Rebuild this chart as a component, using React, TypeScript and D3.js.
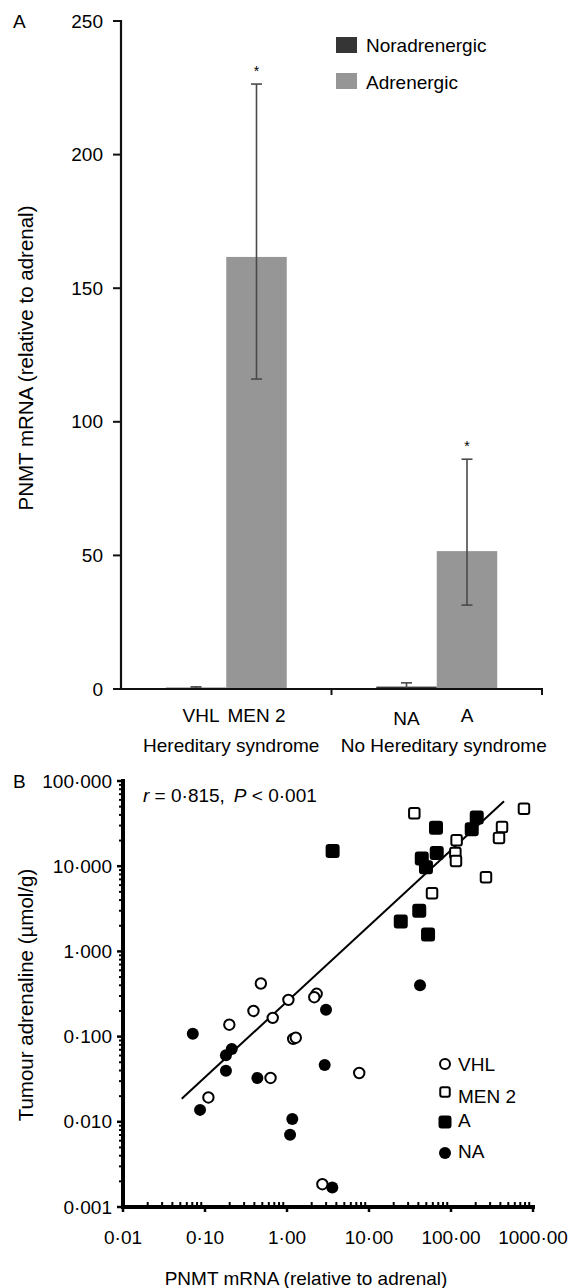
import React from 'react';
import * as d3 from 'd3';

// ---------- Panel A data ----------
const groups = ['Hereditary syndrome', 'No Hereditary syndrome'];
const subLabels = [['VHL', 'MEN 2'], ['NA', 'A']];
const seriesNames = ['Noradrenergic', 'Adrenergic'];
const seriesColors = ['#353535', '#969696'];
const noradrenergicMean = [0.5, 0.9];
const noradrenergicLow = [0.2, 0.0];
const noradrenergicHigh = [0.8, 2.3];
const adrenergicMean = [161.7, 51.6];
const adrenergicLow = [116, 31.4];
const adrenergicHigh = [226.4, 86];
const adrenergicStar = ['*', '*'];
const barYTicks = [0, 50, 100, 150, 200, 250];

// ---------- Panel B data ----------
const vhlX = [0.48, 0.39, 0.198, 1.04, 0.67, 2.3, 2.15, 1.19, 1.28, 0.63, 7.6, 0.11, 2.7];
const vhlY = [0.42, 0.2, 0.138, 0.27, 0.166, 0.318, 0.29, 0.094, 0.097, 0.0327, 0.0374, 0.0193, 0.00185];
const men2X = [35.7, 776, 419, 385, 117, 113, 115, 267, 58.7];
const men2Y = [41.7, 47.2, 28.8, 21.5, 20.2, 14.3, 11.5, 7.4, 4.8];
const aX = [3.6, 65.6, 206, 179, 67, 44, 49.5, 41, 24.4, 52.5];
const aY = [15.1, 28.2, 37.4, 27.2, 14.3, 12.3, 9.7, 3.0, 2.25, 1.58];
const naX = [0.071, 2.99, 0.212, 0.18, 0.18, 0.435, 2.88, 0.087, 1.16, 1.09, 3.57, 41.9];
const naY = [0.108, 0.206, 0.0716, 0.0605, 0.0398, 0.0327, 0.0464, 0.0138, 0.0108, 0.00703, 0.00169, 0.4];
const fitX = [0.052, 443];
const fitY = [0.0186, 58];
const logXTicks = [0.01, 0.1, 1, 10, 100, 1000];
const logXLabels = ['0·01', '0·10', '1·00', '10·00', '100·00', '1000·00'];
const logYTicks = [0.001, 0.01, 0.1, 1, 10, 100];
const logYLabels = ['0·001', '0·010', '0·100', '1·000', '10·000', '100·000'];
const legendB = ['VHL', 'MEN 2', 'A', 'NA'];

const FONT = 'Liberation Sans, Arial, Helvetica, sans-serif';
const FS = 19;
const FS_TITLE = 20.5;

function minorTicks(lo: number, hi: number): number[] {
  const out: number[] = [];
  for (let e = Math.log10(lo); e < Math.log10(hi); e++) {
    for (let k = 2; k <= 9; k++) out.push(k * Math.pow(10, e));
  }
  return out;
}

function PanelA() {
  const y = d3.scaleLinear().domain([0, 250]).range([689, 21]);
  const x0 = d3.scaleBand().domain(groups).range([121, 542]).paddingInner(0).paddingOuter(0);
  const x1 = d3.scaleBand().domain(seriesNames).range([0, x0.bandwidth()]).paddingInner(0).paddingOuter(0.74);
  const means = [noradrenergicMean, adrenergicMean];
  const lows = [noradrenergicLow, adrenergicLow];
  const highs = [noradrenergicHigh, adrenergicHigh];
  const cap = 5.5;
  return (
    <g fontFamily={FONT} fontSize={FS}>
      <text x={13} y={28} fontSize={FS}>A</text>
      {/* bars */}
      {groups.map((g, gi) => (
        <g key={g}>
          {seriesNames.map((s, si) => {
            const bx = (x0(g) as number) + (x1(s) as number);
            const bw = x1.bandwidth();
            const v = means[si][gi];
            return (
              <rect key={s} x={bx} y={y(v)} width={bw} height={y(0) - y(v)} fill={seriesColors[si]} />
            );
          })}
        </g>
      ))}
      {/* error bars */}
      {groups.map((g, gi) => (
        <g key={g + 'e'}>
          {seriesNames.map((s, si) => {
            const cx = (x0(g) as number) + (x1(s) as number) + x1.bandwidth() / 2;
            const lo = lows[si][gi];
            const hi = highs[si][gi];
            return (
              <g key={s} stroke="#4a4a4a" strokeWidth={1.6}>
                <line x1={cx} x2={cx} y1={y(lo)} y2={y(hi)} />
                <line x1={cx - cap} x2={cx + cap} y1={y(hi)} y2={y(hi)} />
                <line x1={cx - cap} x2={cx + cap} y1={y(lo)} y2={y(lo)} />
              </g>
            );
          })}
          <text
            x={(x0(g) as number) + (x1('Adrenergic') as number) + x1.bandwidth() / 2}
            y={y(adrenergicHigh[gi]) - 8}
            textAnchor="middle"
            fontSize={14}
          >
            {adrenergicStar[gi]}
          </text>
        </g>
      ))}
      {/* y axis */}
      <line x1={121} x2={121} y1={20} y2={690} stroke="#111" strokeWidth={2.2} />
      {barYTicks.map((t) => (
        <g key={t}>
          <line x1={113} x2={121} y1={y(t)} y2={y(t)} stroke="#111" strokeWidth={2} />
          <text x={103} y={y(t)} dy="0.35em" textAnchor="end">{t}</text>
        </g>
      ))}
      {/* x axis */}
      <line x1={113} x2={543} y1={y(0)} y2={y(0)} stroke="#111" strokeWidth={2.2} />
      {[x0('No Hereditary syndrome') as number, 542].map((tx, i) => (
        <line key={i} x1={tx} x2={tx} y1={y(0)} y2={y(0) + 6} stroke="#111" strokeWidth={2} />
      ))}
      {groups.map((g, gi) => (
        <g key={g + 'l'}>
          {seriesNames.map((s, si) => (
            <text
              key={s}
              x={(x0(g) as number) + (x1(s) as number) + x1.bandwidth() / 2 + (gi === 0 && si === 0 ? 5 : 0)}
              y={gi === 1 && si === 0 ? 725 : 722}
              textAnchor="middle"
            >
              {subLabels[gi][si]}
            </text>
          ))}
          <text x={(x0(g) as number) + x0.bandwidth() / 2 + (gi === 0 ? 5 : 7)} y={752} textAnchor="middle">
            {g}
          </text>
        </g>
      ))}
      {/* y title */}
      <text transform="translate(33,358) rotate(-90)" textAnchor="middle" fontSize={FS_TITLE}>
        PNMT mRNA (relative to adrenal)
      </text>
      {/* legend */}
      {seriesNames.map((s, i) => (
        <g key={s}>
          <rect x={336} y={37 + i * 36} width={21} height={16} fill={seriesColors[i]} />
          <text x={366} y={52 + i * 37}>{s}</text>
        </g>
      ))}
    </g>
  );
}

function PanelB() {
  const x = d3.scaleLog().domain([0.01, 1000]).range([123, 533]);
  const y = d3.scaleLog().domain([0.001, 100]).range([1207, 781]);
  const line = d3.line<number>().x((_, i) => x(fitX[i])).y((d) => y(d));
  const xMinor = minorTicks(0.01, 1000);
  const yMinor = minorTicks(0.001, 100);
  const axisY = y(0.001);
  const sq = (cx: number, cy: number, s: number, filled: boolean, key: string) => (
    <rect
      key={key}
      x={cx - s / 2}
      y={cy - s / 2}
      width={s}
      height={s}
      rx={2}
      fill={filled ? '#000' : '#fff'}
      stroke="#000"
      strokeWidth={2}
    />
  );
  return (
    <g fontFamily={FONT} fontSize={FS}>
      <text x={13} y={788}>B</text>
      {/* axes */}
      <line x1={123} x2={123} y1={779} y2={axisY + 2} stroke="#000" strokeWidth={4} />
      <line x1={121} x2={535} y1={axisY} y2={axisY} stroke="#000" strokeWidth={4} />
      {yMinor.map((t, i) => (
        <line key={'ym' + i} x1={119} x2={123} y1={y(t)} y2={y(t)} stroke="#000" strokeWidth={2} />
      ))}
      {logYTicks.map((t, i) => (
        <g key={'yt' + i}>
          <line x1={117} x2={123} y1={y(t)} y2={y(t)} stroke="#000" strokeWidth={2.5} />
          <text x={112} y={y(t)} dy="0.35em" textAnchor="end">{logYLabels[i]}</text>
        </g>
      ))}
      {xMinor.map((t, i) => (
        <line key={'xm' + i} x1={x(t)} x2={x(t)} y1={axisY - 5} y2={axisY} stroke="#000" strokeWidth={2} />
      ))}
      {logXTicks.map((t, i) => (
        <g key={'xt' + i}>
          <line x1={x(t)} x2={x(t)} y1={axisY} y2={axisY + 5} stroke="#000" strokeWidth={2.5} />
          <text x={x(t)} y={1244} textAnchor="middle">{logXLabels[i]}</text>
        </g>
      ))}
      {/* regression */}
      <path d={line(fitY) as string} stroke="#000" strokeWidth={2} fill="none" />
      {/* points */}
      {vhlX.map((v, i) => (
        <circle key={'v' + i} cx={x(v)} cy={y(vhlY[i])} r={5.2} fill="#fff" stroke="#000" strokeWidth={2} />
      ))}
      {men2X.map((v, i) => sq(x(v), y(men2Y[i]), 10.5, false, 'm' + i))}
      {aX.map((v, i) => sq(x(v), y(aY[i]), 12, true, 'a' + i))}
      {naX.map((v, i) => (
        <circle key={'n' + i} cx={x(v)} cy={y(naY[i])} r={6} fill="#000" />
      ))}
      {/* annotation */}
      <text x={143} y={802}>
        <tspan fontStyle="italic">r</tspan>
        <tspan> = 0·815,</tspan>
        <tspan dx={9} fontStyle="italic">P</tspan>
        <tspan> &lt; 0·001</tspan>
      </text>
      {/* legend */}
      <circle cx={445} cy={1064} r={5} fill="#fff" stroke="#000" strokeWidth={2} />
      <text x={458} y={1071}>{legendB[0]}</text>
      {sq(445, 1092, 9.5, false, 'lm')}
      <text x={458} y={1103}>{legendB[1]}</text>
      {sq(445, 1122, 11, true, 'la')}
      <text x={458} y={1127}>{legendB[2]}</text>
      <circle cx={445} cy={1153} r={6} fill="#000" />
      <text x={458} y={1158}>{legendB[3]}</text>
      {/* titles */}
      <text transform="translate(33,995) rotate(-90)" textAnchor="middle" fontSize={FS_TITLE}>
        Tumour adrenaline (µmol/g)
      </text>
      <text x={306} y={1285} textAnchor="middle">PNMT mRNA (relative to adrenal)</text>
    </g>
  );
}

export default function App() {
  return (
    <svg
      width={569}
      height={1288}
      viewBox="0 0 569 1288"
      style={{ position: 'absolute', left: 0, top: 0, background: '#fff' }}
    >
      <rect x={0} y={0} width={569} height={1288} fill="#fff" />
      <PanelA />
      <PanelB />
    </svg>
  );
}
